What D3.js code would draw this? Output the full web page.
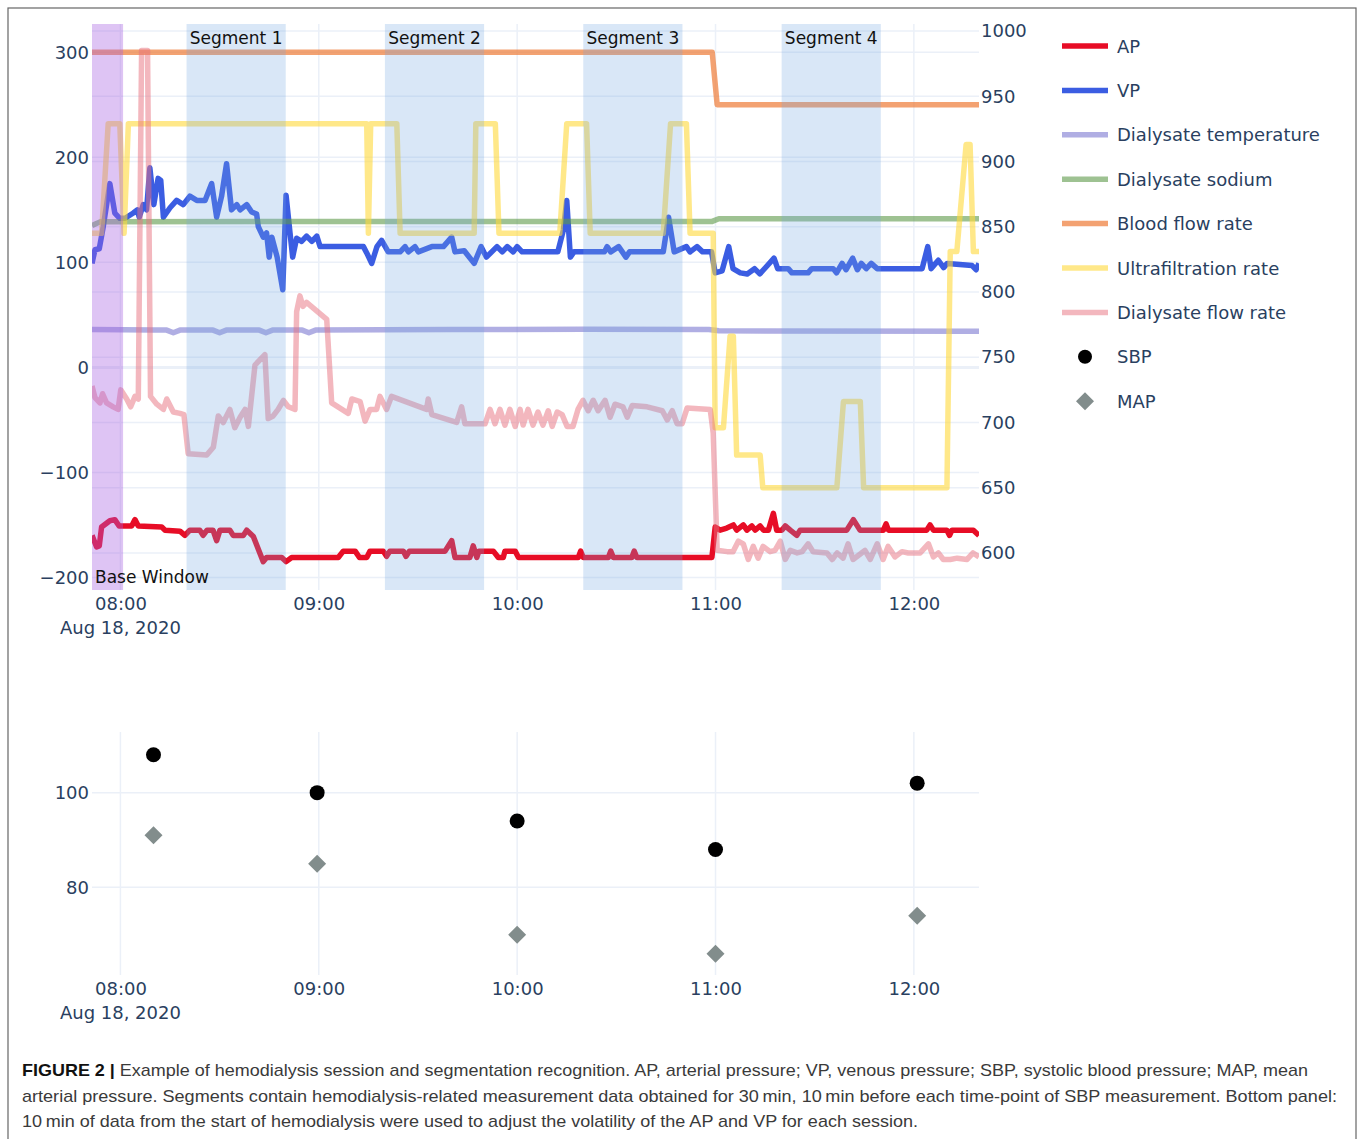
<!DOCTYPE html>
<html>
<head>
<meta charset="utf-8">
<script src="https://cdn.jsdelivr.net/npm/d3@7"></script>
<style>
  body { margin: 0; background: #fff; }
  svg { display: block; }
</style>
</head>
<body>
<svg id="chart" width="1360" height="1139"></svg>
<script>
// --- DATA (time = minutes from 08:00, then value) ---
const apData = [[-8.6,-160],[-7.2,-171],[-6.4,-170],[-5.7,-152],[-3.2,-146],[-1.7,-145],[-0.4,-151],[3.4,-151],[4.4,-145],[5.4,-151],[12.5,-152],[13.5,-155],[18,-156],[19.5,-160],[21,-155],[24,-155],[25,-160],[26.2,-155],[28,-155],[29.1,-165],[30.1,-155],[33.1,-155],[34.1,-160],[37.2,-160],[38.2,-155],[40.2,-161],[43.2,-185],[44.2,-181],[48.8,-181],[50.1,-185],[51.8,-181],[65.9,-181],[67.4,-175],[71,-175],[72.3,-181],[74.5,-181],[75.5,-175],[79.5,-175],[80.5,-180],[81.5,-175],[85.6,-175],[86.4,-180],[87.4,-175],[98.2,-175],[100.2,-165],[101.2,-181],[105.7,-181],[106.7,-170],[107.8,-181],[108.4,-175],[112.8,-175],[114.3,-181],[115.8,-181],[116.3,-175],[119.4,-175],[120.4,-181],[138.5,-181],[139.2,-175],[140,-181],[147.6,-181],[148.3,-175],[149.1,-181],[154.7,-181],[155.4,-175],[156.2,-181],[178.9,-181],[179.9,-152],[181.4,-155],[183.4,-153],[185.4,-150],[186.4,-155],[188.4,-150],[189.5,-155],[191,-151],[192,-155],[193.5,-151],[194.5,-155],[196,-155],[197.5,-139],[198.5,-155],[200.1,-155],[201.1,-151],[202.6,-155],[204.6,-160],[205.6,-155],[219.7,-155],[221.7,-145],[223.7,-155],[230.8,-155],[231.6,-149],[232.3,-155],[243.9,-155],[244.9,-150],[245.9,-155],[250,-155],[250.8,-160],[251.5,-155],[258,-155],[259.7,-160]];

const vpData = [[-8.6,99],[-7.7,112],[-6.4,113],[-5.2,134],[-3.2,175],[-1.7,147],[-0.2,142],[1.4,142],[3.9,147],[5.1,150],[5.7,143],[6.9,155],[7.9,150],[8.9,190],[10.1,155],[11.4,180],[12.2,178],[13,143],[15,152],[17,159],[19,155],[21,163],[23.1,159],[25.6,159],[27.6,175],[29.1,143],[30.6,163],[32.1,194],[33.6,150],[35.2,155],[36.2,150],[38.2,155],[39.7,148],[41.2,146],[41.7,134],[43.2,124],[44.2,128],[45,105],[45.8,124],[47.4,105],[49.1,74],[50.1,164],[51.3,128],[52.1,105],[53.3,123],[54.8,120],[56.3,125],[57.9,120],[59.4,125],[60.4,115],[73.5,115],[74.5,109],[76,99],[77.6,115],[79,121],[81,110],[84.6,110],[86.1,115],[87.1,110],[89.1,115],[90.1,110],[94.2,115],[97.7,115],[100.2,124],[101.2,110],[104,111],[107,99],[109.1,115],[110.7,105],[113.9,115],[115.5,110],[117,115],[118.8,110],[120,115],[121.5,110],[132.3,110],[134,131],[135,159],[136.1,105],[137.2,110],[146.4,110],[147.2,115],[148.3,110],[150.7,115],[152.9,105],[154,110],[164.2,110],[165.8,143],[167.5,110],[171.2,115],[172.3,110],[174.4,115],[176.1,110],[178.8,110],[179.9,90],[182,92],[184,115],[185.3,94],[187.5,90],[189.6,89],[191.8,94],[193.4,89],[197.7,104],[198.8,94],[202,94],[203.1,90],[208,90],[209.1,94],[215.6,94],[216.6,90],[218.3,99],[219.5,93],[221.5,104],[222.9,93],[224.1,99],[225.6,94],[227.1,99],[228.9,94],[230.7,94],[242.5,94],[244.2,115],[245.2,94],[247.4,102],[249,95],[250.1,99],[257.6,97],[258.8,93],[259.7,99]];

const tempData = [[-8.6,36],[10,35.5],[14,35.5],[16,33],[18,35.5],[28,35.5],[30,33],[32,35.5],[42,35.5],[44,33],[46,35.5],[55,35.5],[57,33],[59,35.5],[100,36],[140,36.2],[178,36],[181,34.8],[259.7,34.5]];

const sodiumData = [[-8.6,135],[-6,138.8],[179,139],[181,141.5],[259.7,141.5]];

const bloodFlowData = [[-8.6,300],[179,300],[180.5,250],[259.7,250]];

const ufData = [[-8.6,845],[-5.7,845],[-3.7,929],[-0.2,929],[1.1,845],[2.4,929],[74.5,929],[75,845],[75.7,929],[83.6,929],[84.6,845],[107,845],[107.5,929],[113.4,929],[114.5,845],[132.9,845],[135,929],[141,929],[142.1,845],[164.2,845],[166.4,929],[171.2,929],[172.3,845],[179.3,845],[179.9,696],[182.4,696],[184.4,766],[185.4,766],[186.4,675],[193.5,675],[194.3,650],[216.7,650],[218.7,716],[223.8,716],[224.8,650],[250,650],[251,831],[253,831],[255.8,913],[257,913],[258,831],[259.7,831]];

const dialFlowData = [[-8.6,728],[-7.7,719],[-6.2,715],[-5.4,722],[-4.2,715],[-2.2,712],[-0.7,710],[0.1,725],[1.9,718],[3.1,712],[4.4,720],[5.4,718],[6.4,985],[8.2,985],[9.1,720],[11,714],[13,710],[14,718],[16,708],[18,707],[19.2,706],[20.5,676],[26.1,675],[28.1,681],[29.6,705],[31.1,700],[33.1,710],[34.6,696],[36.2,704],[37.7,710],[38.7,697],[40.7,744],[43.7,752],[44.7,703],[46.2,705],[47.7,710],[49.3,717],[50.8,712],[52.8,710],[53.3,785],[54.3,797],[55.2,789],[56.3,792],[62.4,779],[63.9,715],[68.9,707],[70,718],[72.5,716],[74,701],[75.5,710],[77.5,710],[78.5,720],[80.5,710],[82,720],[92.6,710],[93.1,718],[94.2,706],[101.7,700],[103.2,712],[104.2,699],[110.3,699],[111.8,710],[113.3,699],[114.8,710],[116.3,698],[117.8,710],[119.4,697],[120.9,710],[121.8,698],[123.3,710],[124.8,698],[126.3,708],[127.8,698],[129.4,709],[130.6,697],[132.1,708],[133.6,706],[135.1,697],[136.9,697],[138.4,710],[139.9,717],[141.5,709],[143,717],[144.5,709],[146.6,717],[148.1,704],[149.6,714],[152,712],[153.3,704],[154.8,713],[159.3,712],[163.9,709],[165.4,702],[166.9,709],[168.4,699],[169.9,699],[171.4,711],[178.4,710],[179.3,692],[180.5,602],[183.5,601],[185.3,601],[186.9,609],[188.4,607],[189.9,595],[191.4,605],[192.9,596],[194.4,605],[196.5,601],[198,602],[199.6,609],[201.1,595],[202.6,602],[204.7,600],[206.2,601],[208,607],[209.5,601],[213.7,600],[215.3,595],[216.8,600],[218.6,596],[220.1,607],[221.6,595],[223.7,599],[225.2,602],[226.8,595],[228.9,607],[230.7,595],[232.2,605],[234.3,597],[236.4,601],[238.3,600],[239.8,600],[241.9,600],[244.4,607],[245.9,597],[247.4,600],[248.9,595],[251,595],[253.1,596],[256.1,595],[257.9,600],[259.7,597]];

// blood pressure readings (bottom panel)
const bpTimes = [10, 59.5, 120, 180, 241];
const sbpValues = [108, 100, 94, 88, 102];
const mapValues = [91, 85, 70, 66, 74];

// shaded windows
const baseWindow = [-8.6, 0.8];
const segments = [[20, 50], [80, 110], [140, 170], [200, 230]];
const segmentLabels = ["Segment 1", "Segment 2", "Segment 3", "Segment 4"];

// ticks
const hourTicks = [0, 60, 120, 180, 240];
const leftTicks = [-200, -100, 0, 100, 200, 300];
const rightTicks = [600, 650, 700, 750, 800, 850, 900, 950, 1000];
const bottomTicks = [80, 100];

const captionLines = [
  "Example of hemodialysis session and segmentation recognition. AP, arterial pressure; VP, venous pressure; SBP, systolic blood pressure; MAP, mean",
  "arterial pressure. Segments contain hemodialysis-related measurement data obtained for 30\u2009min, 10\u2009min before each time-point of SBP measurement. Bottom panel:",
  "10\u2009min of data from the start of hemodialysis were used to adjust the volatility of the AP and VP for each session."
];

// --- CONFIGURATION ---
const BASE = new Date(2020, 7, 18, 8, 0, 0);
const T_START = -8.6, T_END = 259.7;
const PLOT = { left: 92, right: 979, top: 24, bottom: 590 };
const PLOT2 = { top: 732, bottom: 975 };
const FONT = "'DejaVu Sans', Verdana, sans-serif";
const TEXT_COLOR = "#2a3f5f";
const GRID = "#ebf0f8";
const LINE_W = 5.5;

const series = [
  { name: "AP", data: apData, axis: "left", color: "#e6001a", opacity: 0.95 },
  { name: "VP", data: vpData, axis: "left", color: "#2a4fe0", opacity: 0.92 },
  { name: "Dialysate temperature", data: tempData, axis: "left", color: "#7b78d0", opacity: 0.6 },
  { name: "Dialysate sodium", data: sodiumData, axis: "left", color: "#5e9a4a", opacity: 0.6 },
  { name: "Blood flow rate", data: bloodFlowData, axis: "left", color: "#ee7a36", opacity: 0.7 },
  { name: "Ultrafiltration rate", data: ufData, axis: "right", color: "#ffd83a", opacity: 0.6 },
  { name: "Dialysate flow rate", data: dialFlowData, axis: "right", color: "#e8707e", opacity: 0.5 }
];

const toDate = m => new Date(BASE.getTime() + m * 60000);

// --- SCALES ---
const x = d3.scaleTime().domain([toDate(T_START), toDate(T_END)]).range([PLOT.left, PLOT.right]);
const yLeft = d3.scaleLinear().domain([-212, 327]).range([PLOT.bottom, PLOT.top]);
const yRight = d3.scaleLinear().domain([571.6, 1005.4]).range([PLOT.bottom, PLOT.top]);
const yBottom = d3.scaleLinear().domain([61.5, 112.8]).range([PLOT2.bottom, PLOT2.top]);

const svg = d3.select("#chart");

// frame
svg.append("rect").attr("x", 8).attr("y", 8).attr("width", 1348).attr("height", 1145)
  .attr("fill", "none").attr("stroke", "#666").attr("stroke-width", 1.2);

// --- TOP PANEL ---
function drawTop() {
  const g = svg.append("g");

  // grid
  g.selectAll(".vgrid").data(hourTicks).join("line")
    .attr("x1", d => x(toDate(d))).attr("x2", d => x(toDate(d)))
    .attr("y1", PLOT.top).attr("y2", PLOT.bottom)
    .attr("stroke", GRID).attr("stroke-width", 1.5);
  g.selectAll(".lgrid").data(leftTicks).join("line")
    .attr("x1", PLOT.left).attr("x2", PLOT.right)
    .attr("y1", d => yLeft(d)).attr("y2", d => yLeft(d))
    .attr("stroke", GRID).attr("stroke-width", d => d === 0 ? 3 : 1.5);
  g.selectAll(".rgrid").data(rightTicks).join("line")
    .attr("x1", PLOT.left).attr("x2", PLOT.right)
    .attr("y1", d => yRight(d)).attr("y2", d => yRight(d))
    .attr("stroke", GRID).attr("stroke-width", 1.5);

  // clip
  svg.append("clipPath").attr("id", "clip-top").append("rect")
    .attr("x", PLOT.left).attr("y", PLOT.top)
    .attr("width", PLOT.right - PLOT.left).attr("height", PLOT.bottom - PLOT.top);

  const lines = g.append("g").attr("clip-path", "url(#clip-top)");
  series.forEach(s => {
    const yS = s.axis === "left" ? yLeft : yRight;
    const line = d3.line().x(d => x(toDate(d[0]))).y(d => yS(d[1]));
    lines.append("path").datum(s.data)
      .attr("d", line)
      .attr("fill", "none")
      .attr("stroke", s.color)
      .attr("stroke-opacity", s.opacity)
      .attr("stroke-width", LINE_W)
      .attr("stroke-linejoin", "round");
  });

  // shaded windows (drawn above traces)
  g.append("rect")
    .attr("x", x(toDate(baseWindow[0]))).attr("y", PLOT.top)
    .attr("width", x(toDate(baseWindow[1])) - x(toDate(baseWindow[0])))
    .attr("height", PLOT.bottom - PLOT.top)
    .attr("fill", "rgba(165,95,225,0.37)");
  g.selectAll(".seg").data(segments).join("rect")
    .attr("x", d => x(toDate(d[0]))).attr("y", PLOT.top)
    .attr("width", d => x(toDate(d[1])) - x(toDate(d[0])))
    .attr("height", PLOT.bottom - PLOT.top)
    .attr("fill", "rgba(115,165,225,0.27)");

  // annotations
  g.selectAll(".seglabel").data(segments).join("text")
    .attr("x", d => (x(toDate(d[0])) + x(toDate(d[1]))) / 2)
    .attr("y", 44)
    .attr("text-anchor", "middle")
    .attr("font-family", FONT).attr("font-size", 17).attr("fill", "#111")
    .text((d, i) => segmentLabels[i]);
  g.append("text")
    .attr("x", x(toDate(baseWindow[0])) + 3).attr("y", 583)
    .attr("font-family", FONT).attr("font-size", 17).attr("fill", "#111")
    .text("Base Window");

  // axes
  const xAxis = d3.axisBottom(x).tickValues(hourTicks.map(toDate))
    .tickFormat(d3.timeFormat("%H:%M")).tickSize(0).tickPadding(7);
  styleAxis(svg.append("g").attr("transform", `translate(0,${PLOT.bottom})`).call(xAxis));
  svg.append("text").attr("x", x(toDate(0))).attr("y", 634).attr("text-anchor", "middle")
    .attr("font-family", FONT).attr("font-size", 18).attr("fill", TEXT_COLOR)
    .text("Aug 18, 2020");

  const fmt = d => d < 0 ? "\u2212" + Math.abs(d) : String(d);
  styleAxis(svg.append("g").attr("transform", `translate(${PLOT.left},0)`)
    .call(d3.axisLeft(yLeft).tickValues(leftTicks).tickFormat(fmt).tickSize(0).tickPadding(3)));
  styleAxis(svg.append("g").attr("transform", `translate(${PLOT.right},0)`)
    .call(d3.axisRight(yRight).tickValues(rightTicks).tickFormat(d3.format("d")).tickSize(0).tickPadding(2)));
}

function styleAxis(sel) {
  sel.select(".domain").remove();
  sel.selectAll("text").attr("font-family", FONT).attr("font-size", 18).attr("fill", TEXT_COLOR);
}

// --- LEGEND ---
function drawLegend() {
  const lg = svg.append("g");
  const rowY = i => 46 + i * 44.4;
  series.forEach((s, i) => {
    lg.append("line").attr("x1", 1062).attr("x2", 1108).attr("y1", rowY(i)).attr("y2", rowY(i))
      .attr("stroke", s.color).attr("stroke-opacity", s.opacity).attr("stroke-width", LINE_W);
    lg.append("text").attr("x", 1117).attr("y", rowY(i) + 6.5)
      .attr("font-family", FONT).attr("font-size", 18).attr("fill", TEXT_COLOR).text(s.name);
  });
  lg.append("circle").attr("cx", 1085).attr("cy", rowY(7)).attr("r", 7).attr("fill", "#000");
  lg.append("text").attr("x", 1117).attr("y", rowY(7) + 6.5)
    .attr("font-family", FONT).attr("font-size", 18).attr("fill", TEXT_COLOR).text("SBP");
  lg.append("path").attr("d", "M0,-9L9,0L0,9L-9,0Z").attr("transform", `translate(1085,${rowY(8)})`)
    .attr("fill", "#828d8c");
  lg.append("text").attr("x", 1117).attr("y", rowY(8) + 6.5)
    .attr("font-family", FONT).attr("font-size", 18).attr("fill", TEXT_COLOR).text("MAP");
}

// --- BOTTOM PANEL ---
function drawBottom() {
  const g = svg.append("g");
  g.selectAll(".vgrid").data(hourTicks).join("line")
    .attr("x1", d => x(toDate(d))).attr("x2", d => x(toDate(d)))
    .attr("y1", PLOT2.top).attr("y2", PLOT2.bottom)
    .attr("stroke", GRID).attr("stroke-width", 1.5);
  g.selectAll(".hgrid").data(bottomTicks).join("line")
    .attr("x1", PLOT.left).attr("x2", PLOT.right)
    .attr("y1", d => yBottom(d)).attr("y2", d => yBottom(d))
    .attr("stroke", GRID).attr("stroke-width", 1.5);

  g.selectAll(".map").data(bpTimes).join("path")
    .attr("d", "M0,-9L9,0L0,9L-9,0Z")
    .attr("transform", (d, i) => `translate(${x(toDate(d))},${yBottom(mapValues[i])})`)
    .attr("fill", "#828d8c");
  g.selectAll(".sbp").data(bpTimes).join("circle")
    .attr("cx", d => x(toDate(d))).attr("cy", (d, i) => yBottom(sbpValues[i]))
    .attr("r", 7.5).attr("fill", "#000");

  const xAxis = d3.axisBottom(x).tickValues(hourTicks.map(toDate))
    .tickFormat(d3.timeFormat("%H:%M")).tickSize(0).tickPadding(7);
  styleAxis(svg.append("g").attr("transform", `translate(0,${PLOT2.bottom})`).call(xAxis));
  svg.append("text").attr("x", x(toDate(0))).attr("y", 1019).attr("text-anchor", "middle")
    .attr("font-family", FONT).attr("font-size", 18).attr("fill", TEXT_COLOR)
    .text("Aug 18, 2020");
  styleAxis(svg.append("g").attr("transform", `translate(${PLOT.left},0)`)
    .call(d3.axisLeft(yBottom).tickValues(bottomTicks).tickSize(0).tickPadding(3)));
}

// --- CAPTION ---
function drawCaption() {
  const widths = [1286, 1315, 896];
  captionLines.forEach((txt, i) => {
    const t = svg.append("text")
      .attr("x", 22).attr("y", 1076 + i * 25.5)
      .attr("font-family", "'Liberation Sans', Arial, sans-serif")
      .attr("font-size", 17).attr("fill", "#3a3a3a")
      .attr("textLength", widths[i]).attr("lengthAdjust", "spacingAndGlyphs");
    if (i === 0) {
      t.append("tspan").attr("font-weight", "bold").attr("fill", "#111").text("FIGURE 2 | ");
    }
    t.append("tspan").text(txt);
  });
}

drawTop();
drawLegend();
drawBottom();
drawCaption();
</script>
</body>
</html>
